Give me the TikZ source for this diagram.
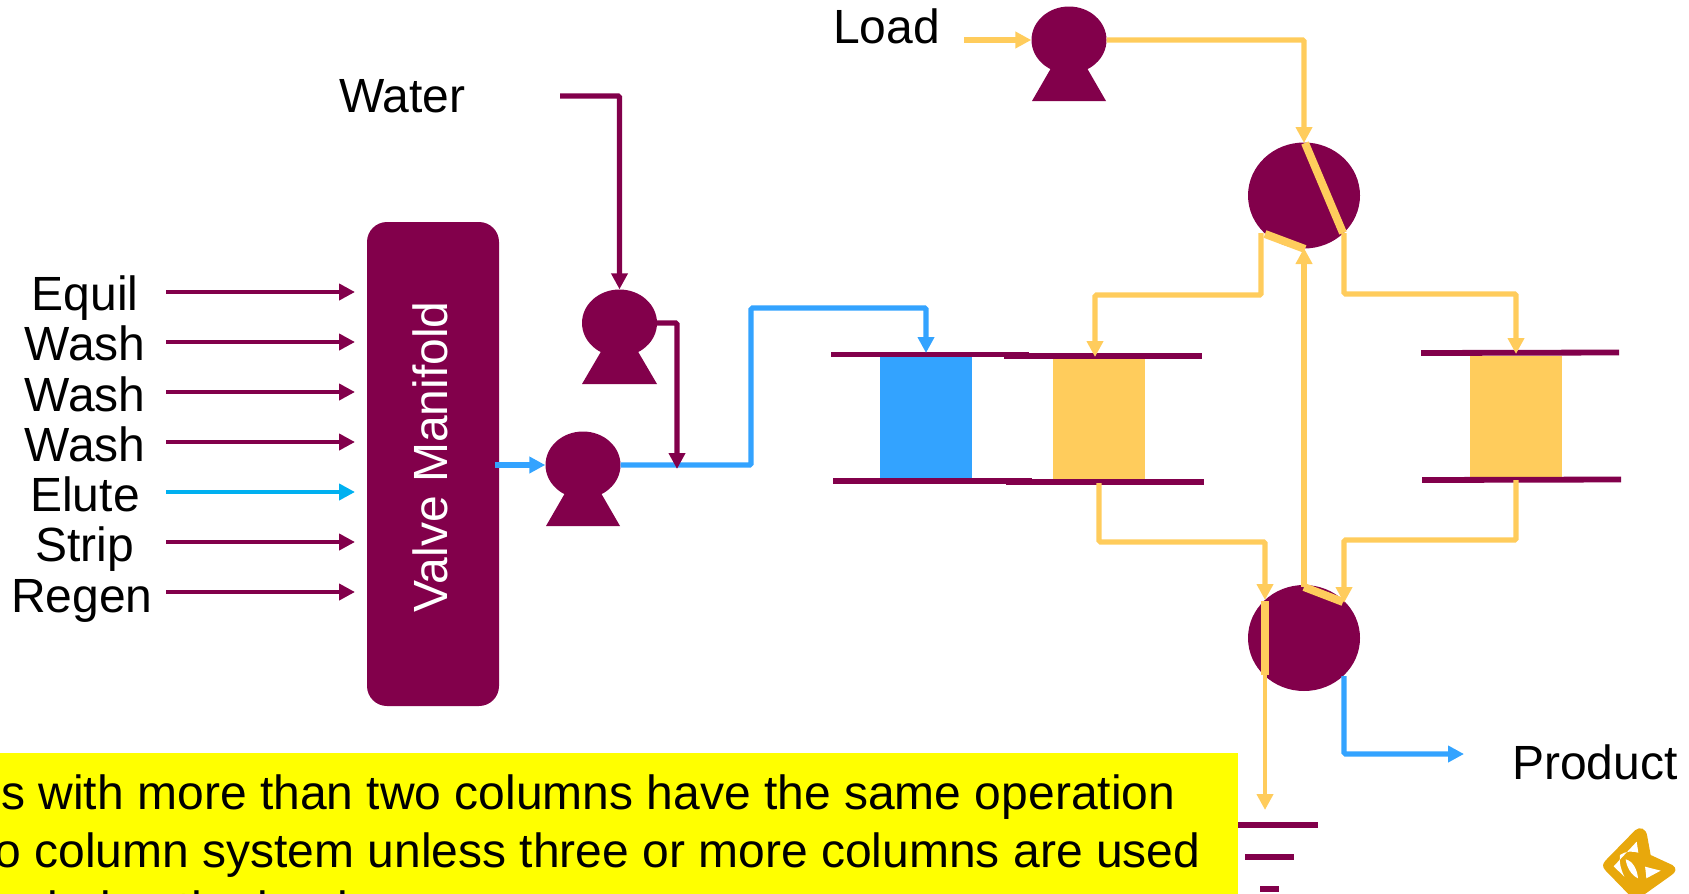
\documentclass[tikz,border=0pt]{standalone}
\usepackage{fontspec}
\setmainfont{Liberation Sans}
\usetikzlibrary{arrows.meta,shapes.geometric}
\definecolor{plum}{HTML}{82004B}
\definecolor{gold}{HTML}{FFCC5C}
\definecolor{skyb}{HTML}{33A3FF}
\definecolor{elute}{HTML}{00B0F0}
\definecolor{logo}{HTML}{E8A80C}
\definecolor{notebg}{RGB}{255,255,0}
\tikzset{
 lbl/.style={inner sep=0pt,font=\fontsize{48}{56}\selectfont},
 flow/.style={line width=4.9pt,rounded corners=1.5pt,-{Triangle[width=16pt,length=16pt]}},
 wide/.style={line width=5.3pt},
 bar/.style={line width=8pt,gold},
 plate/.style={line width=5.8pt,plum},
 body/.style={ellipse,fill=plum,inner sep=0pt,minimum width=75pt,minimum height=67pt},
 valve/.style={ellipse,fill=plum,inner sep=0pt,minimum width=112pt,minimum height=106pt},
}
\begin{document}
\begin{tikzpicture}[x=1pt,y=-1pt]
\useasboundingbox (0,0) rectangle (1689,894);
\clip (0,0) rectangle (1689,894);
% note
\fill[notebg] (0,753) rectangle (1238,894);
\node[lbl,anchor=base east] (note1) at (1175.5,809) {s with more than two columns have the same operation};
\node[lbl,anchor=base east] (note2) at (1200.5,867) {o column system unless three or more columns are used};
\node[lbl,anchor=base west] (note3) at (31,925) {during the load};
% manifold
\node[fill=plum,rounded corners=20pt,inner sep=0pt,minimum width=132pt,minimum height=484pt] (manifold) at (433,464) {};
\node[lbl,white,rotate=90,anchor=base] (manlabel) at (447,457) {Valve Manifold};
% feed labels and arrows
\foreach \nm/\tx/\cx/\by/\ay/\col in {equil/Equil/85/310/292/plum,washa/Wash/85/360/342/plum,washb/Wash/85/411/392/plum,washc/Wash/85/461/442/plum,elu/Elute/85/511/492/elute,strip/Strip/84.5/561/542/plum,regen/Regen/82/612/592/plum}{
 \node[lbl,anchor=base] (\nm) at (\cx,\by) {\tx};
 \coordinate (\nm s) at (166,\ay);
 \coordinate (\nm e) at (355,\ay);
 \draw[flow,\col] (\nm s) -- (\nm e);
}
\node[lbl,anchor=base west] (water) at (339,112.5) {Water};
\node[lbl,anchor=base west] (load) at (833,43) {Load};
\node[lbl,anchor=base west] (product) at (1512,779) {Product};
% pumps
\node[body] (pw) at (619.5,323) {};
\fill[plum] (582,384) -- (619.5,320) -- (657,384) -- cycle;
\node[body] (pe) at (583,465) {};
\fill[plum] (546,526) -- (583,462) -- (620,526) -- cycle;
\node[body] (pl) at (1069,40) {};
\fill[plum] (1032,101) -- (1069,37) -- (1106,101) -- cycle;
% columns
\node[fill=skyb,inner sep=0pt,minimum width=92pt,minimum height=122pt] (cola) at (926,417) {};
\node[fill=gold,inner sep=0pt,minimum width=92pt,minimum height=122pt] (colb) at (1099,418) {};
\node[fill=gold,inner sep=0pt,minimum width=92pt,minimum height=122pt] (colc) at (1516,417) {};
\draw[plate] (831,354.5) -- (1029,354.5);
\draw[plate] (833,481) -- (1032,481);
\draw[plate] (1004,355.7) -- (1202,355.7);
\draw[plate] (1006,482) -- (1204,482);
\draw[plate] (1421,353) -- (1619,352.5);
\draw[plate] (1422,480) -- (1621,479.5);
% valves
\node[valve] (vt) at (1304,195.5) {};
\node[valve] (vb) at (1304,638) {};
% named ports
\coordinate (watersrc) at (560,96);
\coordinate (loadsrc) at (964,40);
\coordinate (mout) at (495,465);
\coordinate (junction) at (677,469);
\coordinate (vtTop) at (1304,143);
\coordinate (vtBot) at (1304,248);
\coordinate (vtL) at (1261,233);
\coordinate (vtR) at (1344,233);
\coordinate (vbTop) at (1304,587);
\coordinate (vbL) at (1265,600);
\coordinate (vbR) at (1344,603);
\coordinate (vbLo) at (1265,675);
\coordinate (vbRo) at (1344,676);
\coordinate (colaT) at (926,353);
\coordinate (colbT) at (1095,357);
\coordinate (colcT) at (1516,354);
\coordinate (colbB) at (1099,483);
\coordinate (colcB) at (1516,480);
\coordinate (waste) at (1265,810);
\coordinate (prodend) at (1464,754);
% blue path
\draw[flow,wide,skyb] (mout) -- (pe.west);
\draw[flow,wide,skyb] (pe.east) -- (751,465) -- (751,308) -- (926,308) -- (colaT);
% purple
\draw[flow,wide,plum] (watersrc) -| (pw.north);
\draw[flow,wide,plum] (pw.east) -| (junction);
% gold
\draw[flow,wide,gold] (loadsrc) -- (pl.west);
\draw[flow,wide,gold] (pl.east) -| (vtTop);
\draw[flow,wide,gold] (vtL) -- (1261,295) -- (1095,295) -- (colbT);
\draw[flow,wide,gold] (vtR) -- (1344,294) -- (1516,294) -- (colcT);
\draw[flow,wide,gold] (colbB) -- (1099,542) -- (1265,542) -- (vbL);
\draw[flow,wide,gold] (colcB) -- (1516,540) -- (1344,540) -- (vbR);
\draw[flow,wide,gold] (vbTop) -- (vtBot);
\draw[flow,gold] (vbLo) -- (waste);
\draw[flow,wide,skyb] (vbRo) -- (1344,754) -- (prodend);
% valve passages
\draw[bar] (1305,143) -- (1343,233);
\draw[bar] (1265,234) -- (1305,249);
\draw[bar] (1265,601) -- (1265,675);
\draw[bar] (1304,587) -- (1343,602);
% ground
\draw[line width=5.3pt,plum] (1238,825) -- (1318,825);
\draw[line width=5.3pt,plum] (1245,857) -- (1294,857);
\draw[line width=5.3pt,plum] (1260,889) -- (1279,889);
% logo
\begin{scope}[shift={(1595,825)},x=0.3333pt,y=-0.3333pt]
\fill[logo] (120,16) .. controls (135,3) and (154,10) .. (157,35) -- (167,90) -- (232,120) .. controls (247,130) and (242,142) .. (230,150) -- (150,207) -- (100,207) -- (32,137) .. controls (20,125) and (23,116) .. (32,106) -- cycle;
\fill[white] (125,50) -- (56,124) -- (88,155) .. controls (76,130) and (72,108) .. (75,90) .. controls (92,78) and (112,78) .. (130,83) -- cycle;
\fill[white] (92,103) .. controls (114,108) and (127,135) .. (129,160) .. controls (108,150) and (95,126) .. (92,103) -- cycle;
\fill[white] (150,125) -- (197,137) -- (154,160) .. controls (153,148) and (152,137) .. (150,125) -- cycle;
\end{scope}
\end{tikzpicture}
\end{document}
